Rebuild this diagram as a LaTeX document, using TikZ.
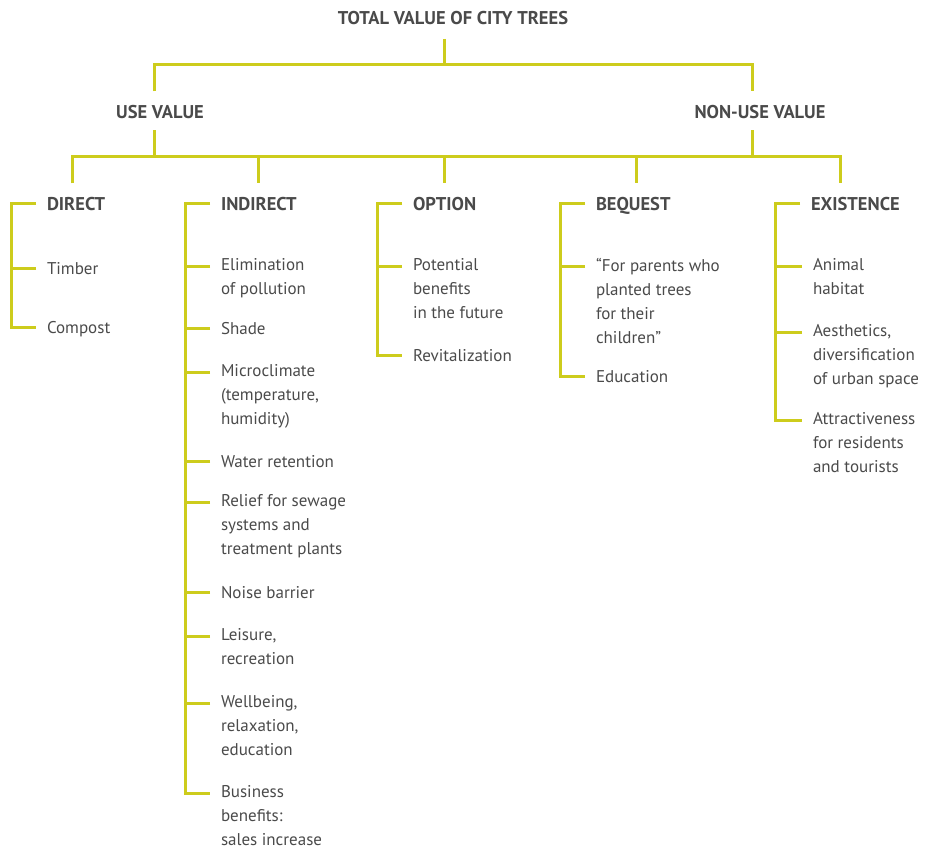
\documentclass[tikz,border=0pt]{standalone}
\usepackage{fontspec}
\setmainfont{PT Sans}
\definecolor{treeline}{RGB}{205,204,28}
\definecolor{ink}{RGB}{74,74,74}
\begin{document}
\begin{tikzpicture}[x=1pt, y=-1pt,
	every node/.style={inner sep=0pt, outer sep=0pt, text=ink},
	head/.style={font=\bfseries\fontsize{18.5}{24}\selectfont, text height=13pt, text depth=0pt},
	item/.style={anchor=north west, align=left, font=\fontsize{17}{24}\selectfont, execute at begin node={\rule{0pt}{14pt}}},
	branch/.style={draw=treeline, line width=3pt}]

	\useasboundingbox (0,0) rectangle (927,848);

	\node [head] (T) at (453,18.5) {TOTAL VALUE OF CITY TREES};
	\node [head] (U) at (160,112) {USE VALUE};
	\node [head] (N) at (760,112) {NON-USE VALUE};

	\node [head, anchor=west] (D) at (47,204) {DIRECT};
	\node [head, anchor=west] (I) at (221,204) {INDIRECT};
	\node [head, anchor=west] (O) at (413,204) {OPTION};
	\node [head, anchor=west] (B) at (596,204) {BEQUEST};
	\node [head, anchor=west] (E) at (811,204) {EXISTENCE};

	% direct
	\node [item] (D1) at (47,260) {Timber};
	\node [item] (D2) at (47,319) {Compost};

	% indirect
	\node [item] (I1) at (221,258) {Elimination\\of pollution};
	\node [item] (I2) at (221,320) {Shade};
	\node [item] (I3) at (221,364) {Microclimate\\(temperature,\\humidity)};
	\node [item] (I4) at (221,453) {Water retention};
	\node [item] (I5) at (221,494) {Relief for sewage\\systems and\\treatment plants};
	\node [item] (I6) at (221,584) {Noise barrier};
	\node [item] (I7) at (221,628) {Leisure,\\recreation};
	\node [item] (I8) at (221,695) {Wellbeing,\\relaxation,\\education};
	\node [item] (I9) at (221,785) {Business\\benefits:\\sales increase};

	% option
	\node [item] (O1) at (413,258) {Potential\\benefits\\in the future};
	\node [item] (O2) at (413,347) {Revitalization};

	% bequest
	\node [item] (B1) at (596,258) {“For parents who\\planted trees\\for their\\children”};
	\node [item] (B2) at (596,368) {Education};

	% existence
	\node [item] (E1) at (813,258) {Animal\\habitat};
	\node [item] (E2) at (813,324) {Aesthetics,\\diversification\\of urban space};
	\node [item] (E3) at (813,412) {Attractiveness\\for residents\\and tourists};

	% upper tree
	\coordinate (t0) at (444,65);
	\coordinate (u0) at (154,157);
	\coordinate (n0) at (752,157);
	\draw [branch, shorten <=14pt] (T.south -| t0) -- (t0);
	\draw [branch, shorten <=14pt, shorten >=14pt] (U.north -| u0) |- (t0) -| (N.north -| n0);
	\draw [branch, shorten <=12pt] (U.south -| u0) -- (u0);
	\draw [branch, shorten <=12pt] (N.south -| n0) -- (n0);

	% lower tree
	\coordinate (cD) at (72.5,157);
	\coordinate (cI) at (258.5,157);
	\coordinate (cO) at (444,157);
	\coordinate (cB) at (636,157);
	\coordinate (cE) at (840,157);
	\draw [branch, shorten <=14pt, shorten >=14pt] (cD |- D.north) -- (cD) -- (cE) -- (cE |- E.north);
	\foreach \c/\h in {cI/I, cO/O, cB/B}
		\draw [branch, shorten >=14pt] (\c) -- (\c |- \h.north);

	% brackets
	\foreach \h/\last in {D/D2, I/I9, O/O2, B/B2, E/E3}
		\draw [branch] ([xshift=-11pt]\h.west) -- ++(-25,0) |- ([xshift=-11pt,yshift=-8pt]\last.north west);
	\foreach \n in {D1, I1, I2, I3, I4, I5, I6, I7, I8, O1, B1, E1, E2}
		\draw [branch] ([xshift=-11pt,yshift=-8pt]\n.north west) -- ++(-25,0);

\end{tikzpicture}
\end{document}
